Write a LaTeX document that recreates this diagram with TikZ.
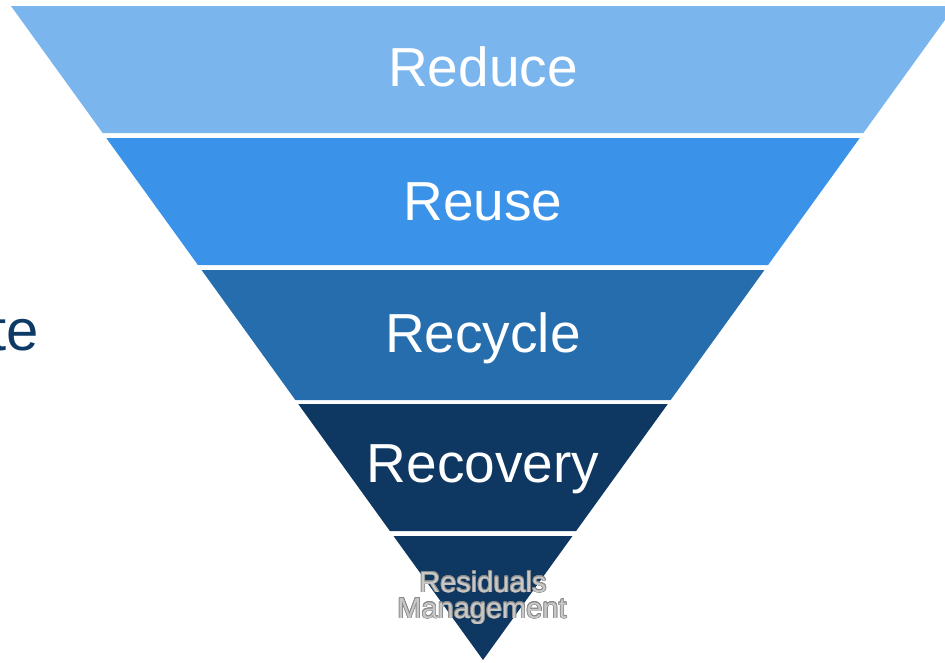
\documentclass[tikz,border=0pt]{standalone}
\usepackage{fontspec}
\setmainfont{Liberation Sans}
\usepackage{contour}
\contourlength{0.7pt}
\definecolor{bandA}{HTML}{7AB5EE}
\definecolor{bandB}{HTML}{3A93E8}
\definecolor{bandC}{HTML}{266DAE}
\definecolor{bandD}{HTML}{0E3761}
\definecolor{bandE}{HTML}{0E3761}
\definecolor{navytext}{HTML}{0E3A66}
\definecolor{resfill}{HTML}{C8C8C8}
\definecolor{resedge}{HTML}{8A8A8A}
\tikzset{
  bigtext/.style={text=white, inner sep=0pt, anchor=base, font=\fontsize{55}{60}\selectfont},
  smalltext/.style={inner sep=0pt, anchor=base, font=\fontsize{29}{30}\selectfont}
}
\newcommand{\kk}{0.72171}
\begin{document}
\begin{tikzpicture}[x=1pt,y=-1pt]
\useasboundingbox (0,0) rectangle (945,662);
\clip (0,0) rectangle (945,662);
\foreach \a/\b/\c in {6/133/bandA,138/265/bandB,270/400/bandC,404/531/bandD,536/660/bandE}{
  \fill[\c] ({483-(660-\a)*\kk},\a) -- ({483+(660-\a)*\kk},\a) -- ({483+(660-\b)*\kk},\b) -- ({483-(660-\b)*\kk},\b) -- cycle;
}
\node[bigtext] (reduce) at (483,86) {Reduce};
\node[bigtext] (reuse) at (483,220) {Reuse};
\node[bigtext] (recycle) at (483,352) {Recycle};
\node[bigtext] (recovery) at (483,482) {Recovery};
\node[smalltext] (resid) at (483,592) {\contour{resedge}{\textcolor{resfill}{Residuals}}};
\node[smalltext] (manag) at (482,618) {\contour{resedge}{\textcolor{resfill}{Management}}};
\node[text=navytext, inner sep=0pt, anchor=base east, font=\fontsize{58}{60}\selectfont] (te) at (39,350) {te};
\end{tikzpicture}
\end{document}
